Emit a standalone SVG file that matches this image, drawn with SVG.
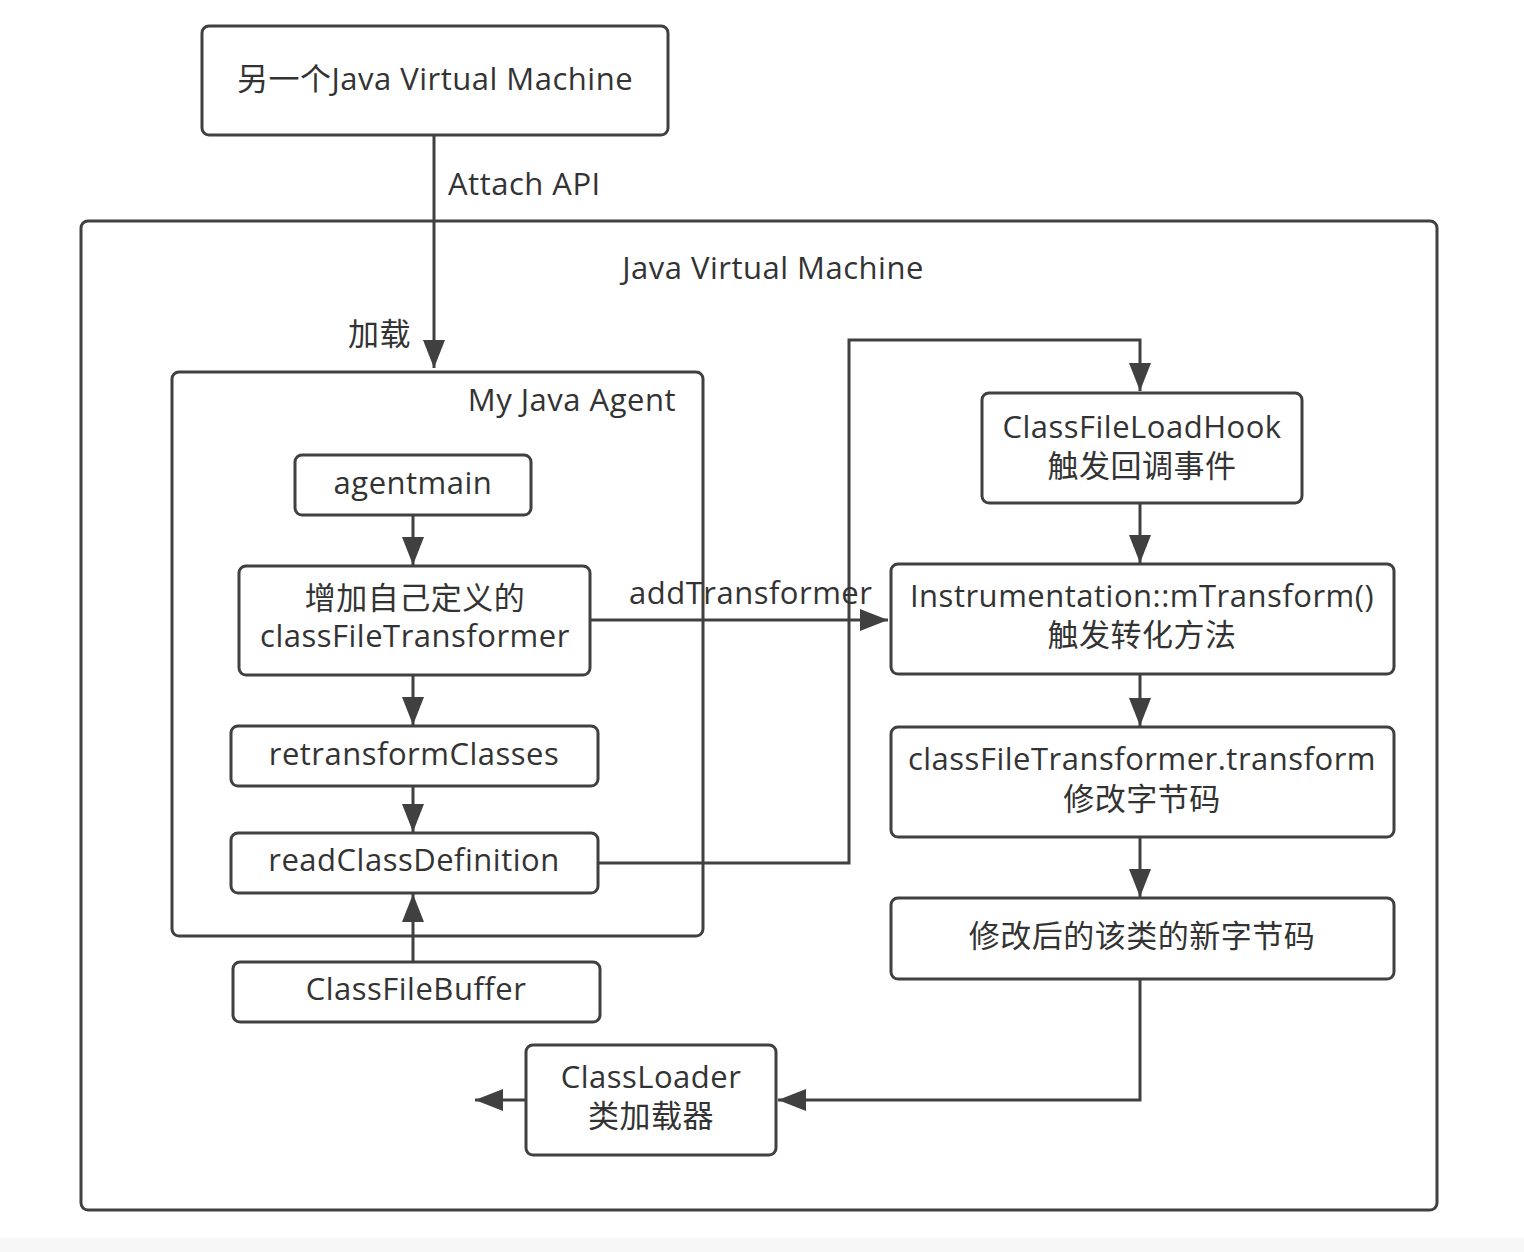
<svg xmlns="http://www.w3.org/2000/svg" width="1524" height="1252" viewBox="0 0 1524 1252">
<defs>
<marker id="ah" markerUnits="userSpaceOnUse" markerWidth="30" markerHeight="24" refX="28" refY="11" orient="auto">
<path d="M0,0 L28,11 L0,22 Z" fill="#404040"/>
</marker>
<style>
.n{fill:#fff;stroke:#404040;stroke-width:3}
.c{fill:none;stroke:#404040;stroke-width:3}
.t{font-family:"Open Sans","Noto Sans CJK SC",sans-serif;font-size:31px;letter-spacing:0.5px;fill:#333;text-anchor:middle}
.l{font-family:"Open Sans","Noto Sans CJK SC",sans-serif;font-size:31px;letter-spacing:0.5px;fill:#333}
</style>
</defs>
<rect x="0" y="0" width="1524" height="1252" fill="#fff"/>
<rect x="0" y="1238" width="1524" height="14" fill="#f7f7f7"/>
<g id="jvm">
<rect class="n" x="81" y="221" width="1356" height="989" rx="7"/>
<text class="t" x="773" y="279">Java Virtual Machine</text>
</g>
<g id="other-jvm">
<rect class="n" x="202" y="26" width="466" height="109" rx="7"/>
<text class="t" x="435" y="90">另一个Java Virtual Machine</text>
</g>
<g id="agent">
<rect class="n" x="172" y="372" width="531" height="564" rx="7"/>
<text class="l" x="676" y="411" text-anchor="end">My Java Agent</text>
</g>
<g id="agentmain">
<rect class="n" x="295" y="455" width="236" height="60" rx="7"/>
<text class="t" x="413" y="494">agentmain</text>
</g>
<g id="addcft">
<rect class="n" x="239" y="566" width="351" height="109" rx="7"/>
<text class="t" x="415" y="609">增加自己定义的</text>
<text class="t" x="415" y="647">classFileTransformer</text>
</g>
<g id="retransform">
<rect class="n" x="231" y="726" width="367" height="60" rx="7"/>
<text class="t" x="414" y="765">retransformClasses</text>
</g>
<g id="readcd">
<rect class="n" x="231" y="833" width="367" height="60" rx="7"/>
<text class="t" x="414" y="871">readClassDefinition</text>
</g>
<g id="cfb">
<rect class="n" x="233" y="962" width="367" height="60" rx="7"/>
<text class="t" x="416" y="1000">ClassFileBuffer</text>
</g>
<g id="hook">
<rect class="n" x="982" y="393" width="320" height="110" rx="7"/>
<text class="t" x="1142" y="438">ClassFileLoadHook</text>
<text class="t" x="1142" y="477">触发回调事件</text>
</g>
<g id="instr">
<rect class="n" x="891" y="564" width="503" height="110" rx="7"/>
<text class="t" x="1142" y="607">Instrumentation::mTransform()</text>
<text class="t" x="1142" y="646">触发转化方法</text>
</g>
<g id="transform">
<rect class="n" x="891" y="727" width="503" height="110" rx="7"/>
<text class="t" x="1142" y="770">classFileTransformer.transform</text>
<text class="t" x="1142" y="810">修改字节码</text>
</g>
<g id="newbytes">
<rect class="n" x="891" y="898" width="503" height="81" rx="7"/>
<text class="t" x="1142" y="947">修改后的该类的新字节码</text>
</g>
<g id="classloader">
<rect class="n" x="526" y="1045" width="250" height="110" rx="7"/>
<text class="t" x="651" y="1088">ClassLoader</text>
<text class="t" x="651" y="1127">类加载器</text>
</g>
<g id="connectors">
<path class="c" d="M434,135 V368" marker-end="url(#ah)"/>
<path class="c" d="M413,515 V565" marker-end="url(#ah)"/>
<path class="c" d="M413,675 V725" marker-end="url(#ah)"/>
<path class="c" d="M413,786 V832" marker-end="url(#ah)"/>
<path class="c" d="M413,962 V894" marker-end="url(#ah)"/>
<path class="c" d="M590,620 H888" marker-end="url(#ah)"/>
<path class="c" d="M598,863 H849 V340 H1140 V391" marker-end="url(#ah)"/>
<path class="c" d="M1140,503 V563" marker-end="url(#ah)"/>
<path class="c" d="M1140,674 V726" marker-end="url(#ah)"/>
<path class="c" d="M1140,837 V897" marker-end="url(#ah)"/>
<path class="c" d="M1140,979 V1100 H778" marker-end="url(#ah)"/>
<path class="c" d="M526,1100 H475" marker-end="url(#ah)"/>
<text class="l" x="448" y="195">Attach API</text>
<text class="l" x="348" y="345">加载</text>
<text class="l" x="629" y="604">addTransformer</text>
</g>
</svg>
